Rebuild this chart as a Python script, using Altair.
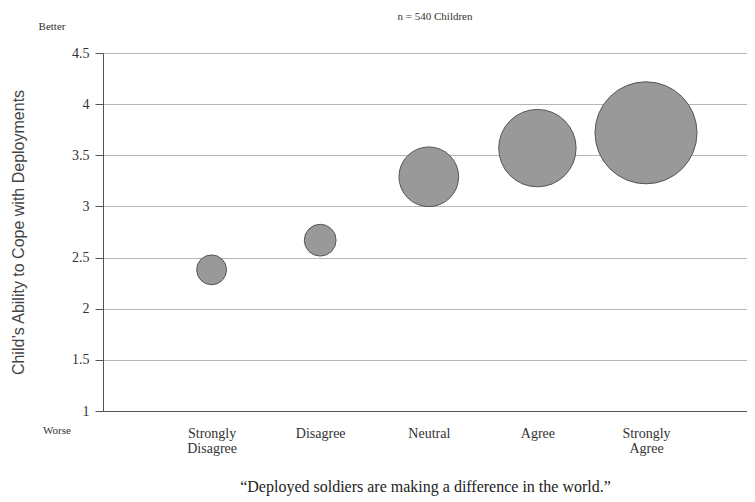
import altair as alt
import pandas as pd

categories = ["Strongly Disagree", "Disagree", "Neutral", "Agree", "Strongly Agree"]
positions = [1, 2, 3, 4, 5]
coping = [2.38, 2.67, 3.29, 3.57, 3.72]
counts = [22, 25, 88, 148, 257]
y_ticks = [1, 1.5, 2, 2.5, 3, 3.5, 4, 4.5]

df = pd.DataFrame({"category": categories, "pos": positions, "coping": coping, "count": counts})

label_expr = ("datum.value == 1 ? ['Strongly','Disagree'] : datum.value == 2 ? 'Disagree' : "
              "datum.value == 3 ? 'Neutral' : datum.value == 4 ? 'Agree' : "
              "datum.value == 5 ? ['Strongly','Agree'] : ''")

SERIF = "Liberation Serif"

base = alt.Chart(df)

bubbles = base.mark_circle(opacity=1, fill="#999999", stroke="#555555", strokeWidth=1).encode(
    x=alt.X("pos:Q",
            scale=alt.Scale(domain=[0, 5.93], nice=False, zero=True),
            axis=alt.Axis(values=positions, labelExpr=label_expr, grid=False, ticks=False,
                          domain=True, domainColor="#555555", labelFont=SERIF, labelFontSize=14,
                          labelColor="#333333", labelPadding=15, labelLineHeight=15,
                          title="“Deployed soldiers are making a difference in the world.”",
                          titleFont=SERIF, titleFontSize=16, titleFontWeight="normal",
                          titleColor="#222222", titlePadding=23)),
    y=alt.Y("coping:Q",
            scale=alt.Scale(domain=[1, 4.5], nice=False, zero=False),
            axis=alt.Axis(values=y_ticks, grid=True, gridColor="#b5b5b5", gridWidth=1,
                          format="~g",
                          domain=True, domainColor="#555555", ticks=True, tickSize=8,
                          tickColor="#555555", labelFont=SERIF, labelFontSize=14,
                          labelColor="#333333", labelPadding=6,
                          title="Child’s Ability to Cope with Deployments",
                          titleFont="Liberation Sans", titleFontSize=16, titleFontWeight="normal",
                          titleColor="#444444", titlePadding=45)),
    size=alt.Size("count:Q", scale=alt.Scale(domain=[0, 257], range=[0, 102 ** 2]),
                  legend=None),
)

better = alt.Chart(pd.DataFrame({"t": ["Better"]})).mark_text(
    font=SERIF, fontSize=11, color="#333333", align="center", baseline="middle"
).encode(text="t:N", x=alt.value(-51), y=alt.value(-26))

worse = alt.Chart(pd.DataFrame({"t": ["Worse"]})).mark_text(
    font=SERIF, fontSize=11, color="#333333", align="center", baseline="middle"
).encode(text="t:N", x=alt.value(-46), y=alt.value(378))

ntext = alt.Chart(pd.DataFrame({"t": ["n = 540 Children"]})).mark_text(
    font=SERIF, fontSize=11, color="#333333", align="center", baseline="middle"
).encode(text="t:N", x=alt.value(332), y=alt.value(-36))

chart = alt.layer(bubbles, better, worse, ntext).properties(
    width=644, height=358,
    autosize=alt.AutoSizeParams(type="none"),
    padding={"left": 95, "top": 45, "right": 0, "bottom": 90},
).configure_view(stroke=None).configure(background="white")

chart.save("out.html", embed_options={"renderer": "svg", "actions": False})
